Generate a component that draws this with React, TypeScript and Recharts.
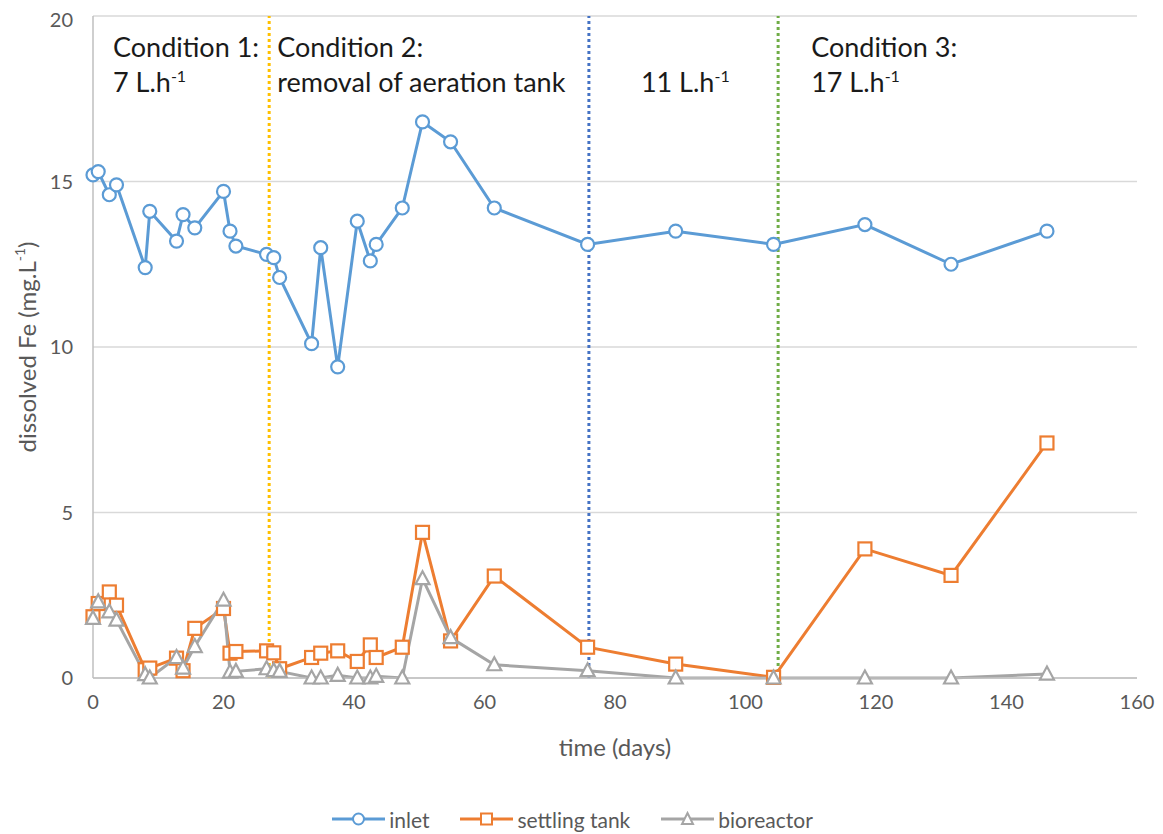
import React from "react";
import {
  LineChart,
  Line,
  XAxis,
  YAxis,
  CartesianGrid,
  ReferenceLine,
  Legend,
} from "recharts";

// sampling days
const days = [
  0, 0.8, 2.5, 3.6, 8, 8.7, 12.8, 13.8, 15.6, 20, 21, 21.9, 26.6, 27.7, 28.6,
  33.5, 34.9, 37.5, 40.5, 42.5, 43.4, 47.4, 50.5, 54.8, 61.5, 75.8, 89.3,
  104.3, 118.3, 131.5, 146.2,
];
const inlet = [
  15.2, 15.3, 14.6, 14.9, 12.4, 14.1, 13.2, 14.0, 13.6, 14.7, 13.5, 13.05,
  12.8, 12.7, 12.1, 10.1, 13.0, 9.4, 13.8, 12.6, 13.1, 14.2, 16.8, 16.2, 14.2,
  13.1, 13.5, 13.1, 13.7, 12.5, 13.5,
];
const settlingTank = [
  1.85, 2.25, 2.6, 2.2, 0.25, 0.3, 0.6, 0.22, 1.5, 2.1, 0.75, 0.8, 0.82, 0.76,
  0.28, 0.62, 0.75, 0.82, 0.5, 1.0, 0.62, 0.93, 4.4, 1.12, 3.08, 0.93, 0.42,
  0.02, 3.9, 3.1, 7.1,
];
const bioreactor = [
  1.8, 2.3, 2.0, 1.75, 0.1, 0, 0.62, 0.3, 0.95, 2.35, 0.18, 0.2, 0.28, 0.22,
  0.2, 0, 0, 0.08, 0, 0, 0.05, 0, 3.0, 1.22, 0.4, 0.22, 0, 0, 0, 0, 0.12,
];

const xTicks = [0, 20, 40, 60, 80, 100, 120, 140, 160];
const yTicks = [0, 5, 10, 15, 20];

// condition changes (days)
const conditionDays = [27, 76, 105];
const conditionColors = ["#FFC000", "#4472C4", "#70AD47"];

const seriesOrder = ["inlet", "settling", "bioreactor"];

const data = days.map((d, i) => ({
  day: d,
  inlet: inlet[i],
  settling: settlingTank[i],
  bioreactor: bioreactor[i],
}));

const FONT = "Lato, 'Open Sans', sans-serif";
const GREY_TEXT = "#595959";
const BLUE = "#5B9BD5";
const ORANGE = "#ED7D31";
const GREY = "#A5A5A5";

const CircleDot = (props: any) => {
  const { cx, cy, stroke } = props;
  if (cx == null || cy == null) return null;
  return <circle cx={cx} cy={cy} r={6.5} fill="#fff" stroke={stroke} strokeWidth={2.2} />;
};

const SquareDot = (props: any) => {
  const { cx, cy, stroke } = props;
  if (cx == null || cy == null) return null;
  return (
    <rect x={cx - 6.5} y={cy - 6.5} width={13} height={13} fill="#fff" stroke={stroke} strokeWidth={2.2} />
  );
};

const TriangleDot = (props: any) => {
  const { cx, cy, stroke } = props;
  if (cx == null || cy == null) return null;
  return (
    <polygon
      points={`${cx},${cy - 7.5} ${cx + 7},${cy + 5.5} ${cx - 7},${cy + 5.5}`}
      fill="#fff"
      stroke={stroke}
      strokeWidth={2.2}
    />
  );
};

const Sup = ({ children }: { children: string }) => (
  <tspan dy={-10} fontSize={16}>
    {children}
  </tspan>
);

// annotation text block relative to a reference line
const annotation = (lines: string[][], dx: number) => (props: any) => {
  const { viewBox } = props;
  if (!viewBox) return null;
  const x = viewBox.x + dx;
  const y = viewBox.y;
  return (
    <g>
      {lines.map((ln, i) => (
        <text
          key={i}
          x={x}
          y={y + 41 + i * 35}
          fontFamily={FONT}
          fontSize={27}
          fill="#1a1a1a"
        >
          {ln[0]}
          {ln[1] ? <Sup>{ln[1]}</Sup> : null}
        </text>
      ))}
    </g>
  );
};

const legendMarker: Record<string, (c: string) => React.ReactNode> = {
  inlet: (c) => <circle cx={26.5} cy={8} r={5.5} fill="#fff" stroke={c} strokeWidth={2} />,
  settling: (c) => <rect x={21} y={2.5} width={11} height={11} fill="#fff" stroke={c} strokeWidth={2} />,
  bioreactor: (c) => (
    <polygon points="26.5,2 32,13 21,13" fill="#fff" stroke={c} strokeWidth={2} />
  ),
};

const renderLegend = (props: any) => {
  const payload = [...(props.payload || [])].sort(
    (a: any, b: any) => seriesOrder.indexOf(a.dataKey) - seriesOrder.indexOf(b.dataKey)
  );
  return (
    <div
      style={{
        height: 30,
        display: "flex",
        justifyContent: "center",
        alignItems: "center",
        gap: 31,
        fontFamily: FONT,
        fontSize: 21,
        color: GREY_TEXT,
      }}
    >
      {payload.map((entry: any) => (
        <span key={entry.dataKey} style={{ display: "inline-flex", alignItems: "center" }}>
          <svg width={53} height={16}>
            <line x1={0} y1={8} x2={53} y2={8} stroke={entry.color} strokeWidth={3} />
            {legendMarker[entry.dataKey]?.(entry.color)}
          </svg>
          <span style={{ marginLeft: 4 }}>{entry.value}</span>
        </span>
      ))}
    </div>
  );
};

export default function App() {
  return (
    <div style={{ width: 1155, height: 826 }}>
      <LineChart
        width={1155}
        height={826}
        data={data}
        margin={{ top: 8, right: 26, left: 0, bottom: 0 }}
      >
        <CartesianGrid vertical={false} stroke="#d9d9d9" strokeWidth={1.5} />
        <XAxis
          dataKey="day"
          type="number"
          domain={[0, 160]}
          ticks={xTicks}
          tickLine={false}
          tickSize={0}
          tickMargin={17}
          height={126}
          axisLine={{ stroke: "#bfbfbf", strokeWidth: 1.5 }}
          tick={{ fill: GREY_TEXT, fontSize: 20, fontFamily: FONT }}
          label={(props: any) => {
            const vb = props.viewBox;
            return (
              <text
                x={vb.x + vb.width / 2}
                y={vb.y + 68}
                textAnchor="middle"
                dominantBaseline="central"
                fontFamily={FONT}
                fontSize={24}
                fill={GREY_TEXT}
              >
                time (days)
              </text>
            );
          }}
        />
        <YAxis
          type="number"
          domain={[0, 20]}
          ticks={yTicks}
          width={85}
          tickLine={false}
          tickSize={0}
          tickMargin={20}
          axisLine={{ stroke: "#bfbfbf", strokeWidth: 1.5 }}
          tick={{ fill: GREY_TEXT, fontSize: 20, fontFamily: FONT }}
          label={(props: any) => {
            const vb = props.viewBox;
            const cx = 18;
            const cy = vb.y + vb.height / 2;
            return (
              <text
                x={cx}
                y={cy}
                transform={`rotate(-90, ${cx}, ${cy})`}
                textAnchor="middle"
                dominantBaseline="central"
                fontFamily={FONT}
                fontSize={24}
                fill={GREY_TEXT}
              >
                dissolved Fe (mg.L
                <tspan dy={-7} fontSize={14}>
                  -1
                </tspan>
                <tspan dy={7}>)</tspan>
              </text>
            );
          }}
        />
        <ReferenceLine
          x={0}
          stroke="none"
          label={annotation([["Condition 1:"], ["7 L.h", "-1"]], 20)}
        />
        <ReferenceLine
          x={conditionDays[0]}
          stroke={conditionColors[0]}
          strokeWidth={3}
          strokeDasharray="3 3"
          label={annotation([["Condition 2:"], ["removal of aeration tank"]], 8)}
        />
        <ReferenceLine
          x={conditionDays[1]}
          stroke={conditionColors[1]}
          strokeWidth={3}
          strokeDasharray="3 3"
          label={annotation([[""], ["11 L.h", "-1"]], 52)}
        />
        <ReferenceLine
          x={conditionDays[2]}
          stroke={conditionColors[2]}
          strokeWidth={3}
          strokeDasharray="3 3"
          label={annotation([["Condition 3:"], ["17 L.h", "-1"]], 33)}
        />
        <Legend verticalAlign="bottom" content={renderLegend} />
        <Line
          dataKey="inlet"
          name="inlet"
          stroke={BLUE}
          strokeWidth={3}
          dot={<CircleDot />}
          activeDot={false}
          isAnimationActive={false}
        />
        <Line
          dataKey="settling"
          name="settling tank"
          stroke={ORANGE}
          strokeWidth={3}
          dot={<SquareDot />}
          activeDot={false}
          isAnimationActive={false}
        />
        <Line
          dataKey="bioreactor"
          name="bioreactor"
          stroke={GREY}
          strokeWidth={3}
          dot={<TriangleDot />}
          activeDot={false}
          isAnimationActive={false}
        />
      </LineChart>
    </div>
  );
}
